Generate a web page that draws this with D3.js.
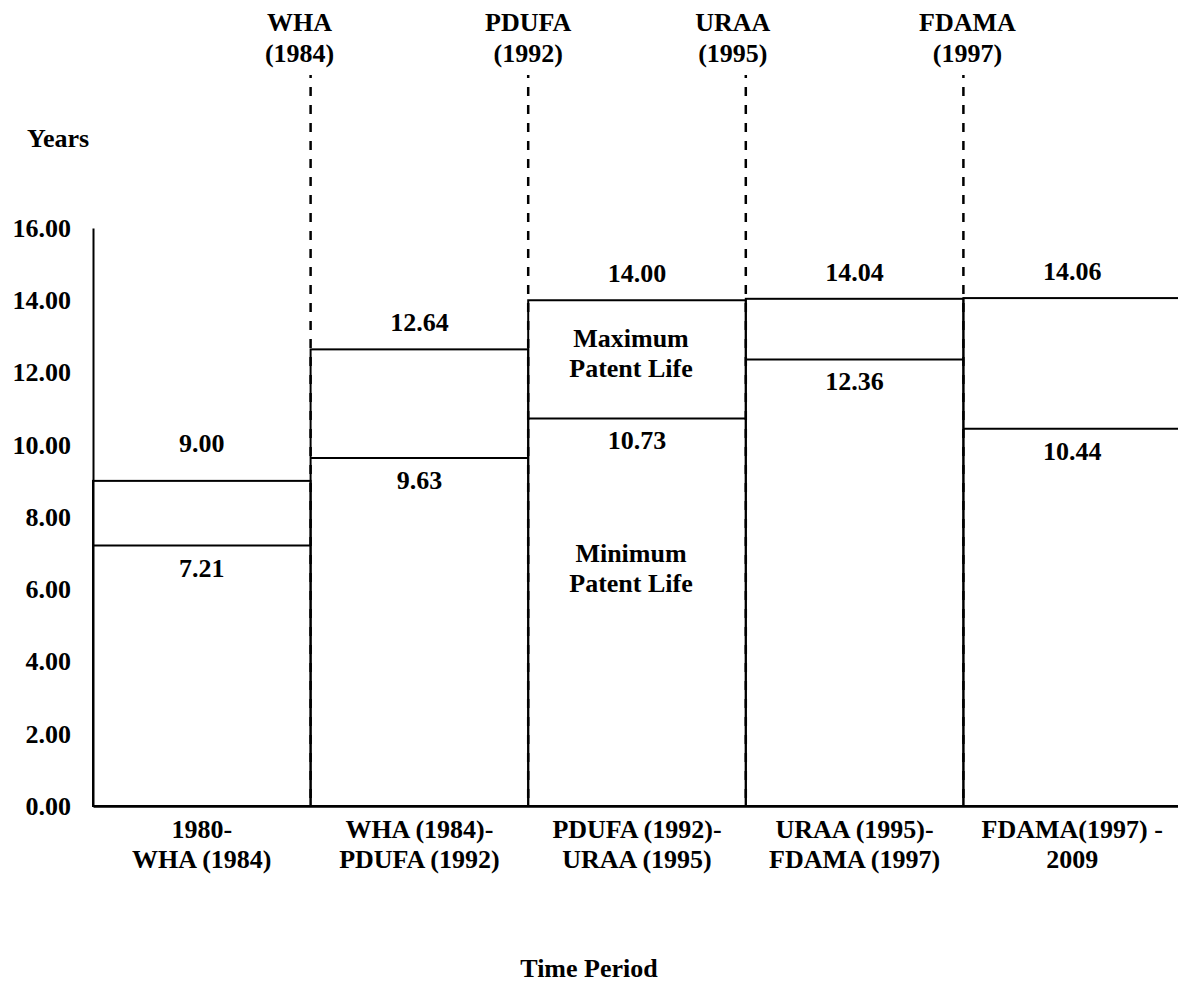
<!DOCTYPE html>
<html>
<head>
<meta charset="utf-8">
<script src="https://cdn.jsdelivr.net/npm/d3@7"></script>
<style>
  html, body { margin: 0; padding: 0; background: #fff; }
  svg { display: block; }
  text { font-family: "Liberation Serif", "Times New Roman", serif; font-weight: bold; fill: #000; }
</style>
</head>
<body>
<svg id="chart" width="1178" height="983"></svg>
<script>
// ---------- DATA ----------
const periods = ["1980-\nWHA (1984)", "WHA (1984)-\nPDUFA (1992)", "PDUFA (1992)-\nURAA (1995)", "URAA (1995)-\nFDAMA (1997)", "FDAMA(1997) -\n2009"];
const maxPatentLife = [9.00, 12.64, 14.00, 14.04, 14.06];
const minPatentLife = [7.21, 9.63, 10.73, 12.36, 10.44];
const events = ["WHA\n(1984)", "PDUFA\n(1992)", "URAA\n(1995)", "FDAMA\n(1997)"];
const yTicks = [0, 2, 4, 6, 8, 10, 12, 14, 16];
const yTitle = "Years";
const xTitle = "Time Period";
const maxLegend = "Maximum\nPatent Life";
const minLegend = "Minimum\nPatent Life";

// ---------- LAYOUT ----------
const svg = d3.select("#chart");
const fontSize = 26;
const plotLeft = 93, plotRight = 1181;
const y = d3.scaleLinear().domain([0, 16]).range([806, 228]);
const x = d3.scaleBand().domain(d3.range(periods.length)).range([plotLeft, plotRight]).padding(0);
const eventLabelDx = [-11, 0, -13, 4];
const maxLabelDy = [-29, -18, -18, -18, -18];

function multiline(sel, str, lh) {
  str.split("\n").forEach((s, i) => {
    sel.append("tspan").attr("x", sel.attr("x")).attr("dy", i === 0 ? 0 : lh).text(s);
  });
}

// boxes
const boxG = svg.append("g");
periods.forEach((p, i) => {
  const x0 = x(i), x1 = x(i) + x.bandwidth();
  boxG.append("rect")
    .attr("x", x0).attr("y", y(maxPatentLife[i]))
    .attr("width", x1 - x0).attr("height", y(0) - y(maxPatentLife[i]))
    .attr("fill", "none").attr("stroke", "#000").attr("stroke-width", 2);
  boxG.append("line")
    .attr("x1", x0).attr("x2", x1)
    .attr("y1", y(minPatentLife[i])).attr("y2", y(minPatentLife[i]))
    .attr("stroke", "#000").attr("stroke-width", 2);
  const cx = x0 + x.bandwidth() / 2;
  boxG.append("text")
    .attr("x", cx).attr("y", y(maxPatentLife[i]) + maxLabelDy[i])
    .attr("text-anchor", "middle").attr("font-size", fontSize)
    .text(maxPatentLife[i].toFixed(2));
  boxG.append("text")
    .attr("x", cx).attr("y", y(minPatentLife[i]) + 31)
    .attr("text-anchor", "middle").attr("font-size", fontSize)
    .text(minPatentLife[i].toFixed(2));
  const t = boxG.append("text")
    .attr("x", cx).attr("y", 838)
    .attr("text-anchor", "middle").attr("font-size", fontSize);
  multiline(t, p, 30);
});

// dashed event lines
const evG = svg.append("g");
events.forEach((e, i) => {
  const xv = x(i + 1);
  evG.append("line")
    .attr("x1", xv).attr("x2", xv)
    .attr("y1", 75).attr("y2", y(0))
    .attr("stroke", "#000").attr("stroke-width", 2.5)
    .attr("stroke-dasharray", "9,9")
    .attr("stroke-dashoffset", 6);
  const t = evG.append("text")
    .attr("x", xv + eventLabelDx[i]).attr("y", 31)
    .attr("text-anchor", "middle").attr("font-size", fontSize);
  multiline(t, e, 31);
});

// legend-like annotations in the third box
const mid = x(2) + x.bandwidth() / 2 - 6;
const tMax = svg.append("text").attr("x", mid).attr("y", 347)
  .attr("text-anchor", "middle").attr("font-size", fontSize);
multiline(tMax, maxLegend, 30);
const tMin = svg.append("text").attr("x", mid).attr("y", 562)
  .attr("text-anchor", "middle").attr("font-size", fontSize);
multiline(tMin, minLegend, 30);

// y axis
const yAxis = d3.axisLeft(y).tickValues(yTicks).tickFormat(d => d.toFixed(2)).tickSize(0).tickPadding(22);
const ag = svg.append("g").attr("transform", `translate(${plotLeft},0)`).call(yAxis);
ag.attr("font-family", null);
ag.select(".domain").attr("stroke", "#000").attr("stroke-width", 2);
ag.selectAll("text").attr("font-size", fontSize);

// x axis line
const xg = svg.append("g").attr("transform", `translate(0,${y(0)})`)
  .call(d3.axisBottom(x).tickSize(0).tickFormat(""));
xg.select(".domain").attr("stroke", "#000").attr("stroke-width", 2.5);

// titles
svg.append("text").attr("x", 27).attr("y", 147).attr("font-size", fontSize).text(yTitle);
svg.append("text").attr("x", 589).attr("y", 977).attr("text-anchor", "middle").attr("font-size", fontSize).text(xTitle);
</script>
</body>
</html>
